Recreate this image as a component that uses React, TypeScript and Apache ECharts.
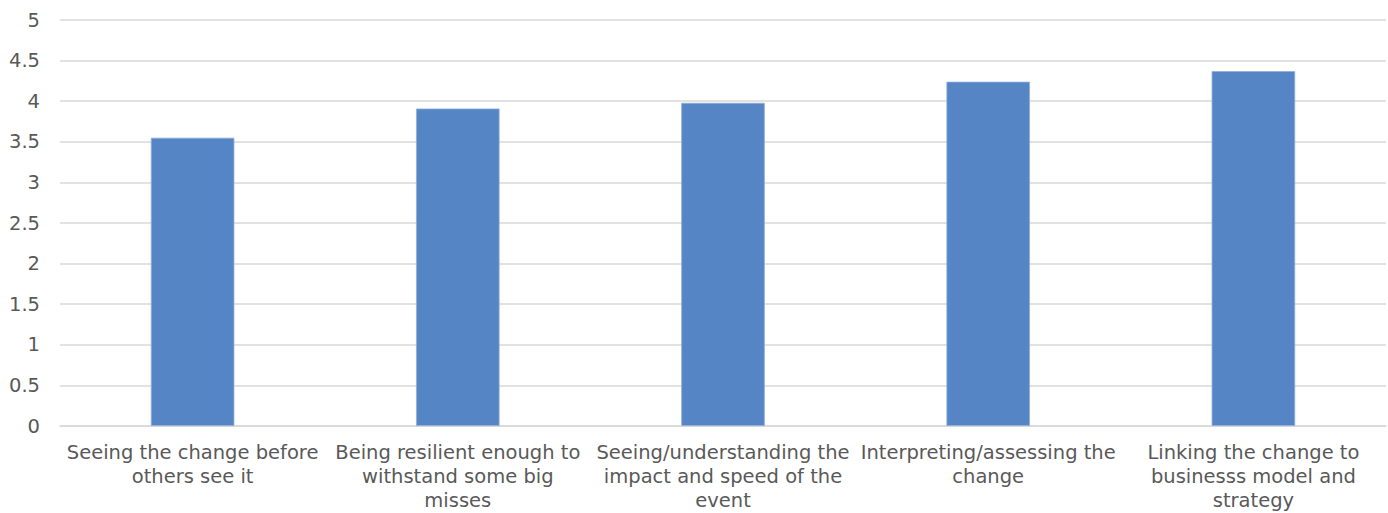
import React, { useEffect, useRef } from "react";
import * as echarts from "echarts";

const categories = [
  "Seeing the change before\nothers see it",
  "Being resilient enough to\nwithstand some big\nmisses",
  "Seeing/understanding the\nimpact and speed of the\nevent",
  "Interpreting/assessing the\nchange",
  "Linking the change to\nbusinesss model and\nstrategy",
];
const values = [3.55, 3.91, 3.98, 4.24, 4.37];
const yTicks = { min: 0, max: 5, interval: 0.5 };

export default function App() {
  const ref = useRef<HTMLDivElement>(null);
  useEffect(() => {
    document.body.style.margin = "0";
    const chart = echarts.init(ref.current!, null, { renderer: "svg" });
    const font = "DejaVu Sans";
    chart.setOption({
      animation: false,
      grid: { left: 60, right: 2, top: 20, bottom: 87, containLabel: false },
      xAxis: {
        type: "category",
        data: categories,
        axisLine: { lineStyle: { color: "#d9d9d9", width: 1.5 } },
        axisTick: { show: false },
        axisLabel: {
          interval: 0,
          color: "#595959",
          fontFamily: font,
          fontSize: 19.5,
          lineHeight: 24,
          margin: 14,
        },
      },
      yAxis: {
        type: "value",
        min: yTicks.min,
        max: yTicks.max,
        interval: yTicks.interval,
        axisLine: { show: false },
        axisTick: { show: false },
        splitLine: { lineStyle: { color: "#d9d9d9", width: 1.5 } },
        axisLabel: {
          color: "#595959",
          fontFamily: font,
          fontSize: 19.5,
          margin: 20,
        },
      },
      series: [
        {
          type: "bar",
          data: values,
          barWidth: "31.5%",
          itemStyle: { color: "#5585c5", borderColor: "#8fb0dc", borderWidth: 0.8 },
        },
      ],
    });
    return () => chart.dispose();
  }, []);
  return <div ref={ref} style={{ width: 1388, height: 513 }} />;
}
